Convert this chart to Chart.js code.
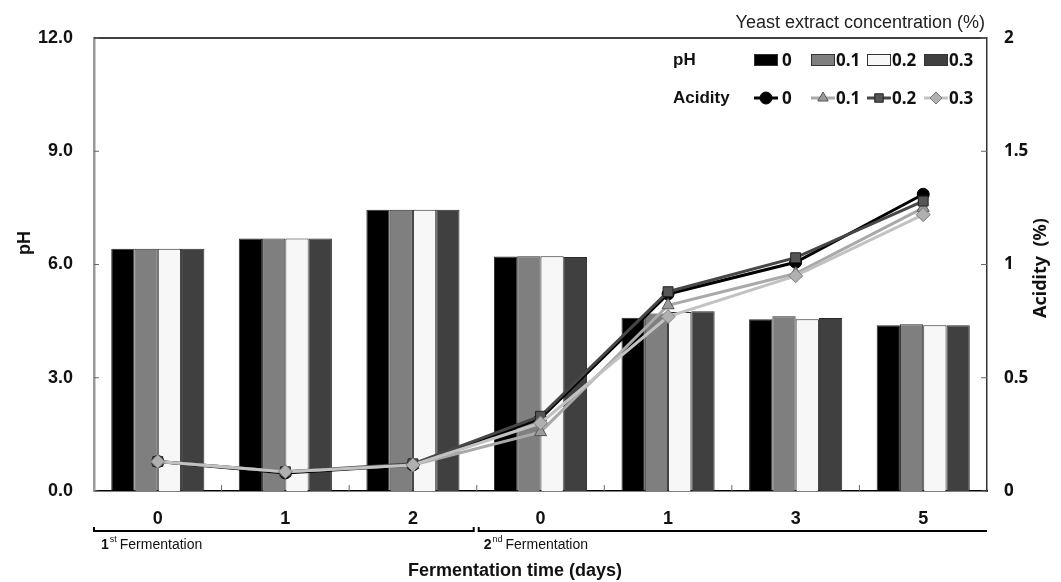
<!DOCTYPE html>
<html>
<head>
<meta charset="utf-8">
<script src="https://cdn.jsdelivr.net/npm/chart.js@4/dist/chart.umd.min.js"></script>
<style>
    body { margin: 0; background: #fff; }
    #wrap { width: 1061px; height: 582px; }
</style>
</head>
<body>
<div id="wrap"><canvas id="fermentChart" width="1061" height="582"></canvas></div>
<script>
// fermentation days (1st: 0,1,2 / 2nd: 0,1,3,5)
const days = ['0', '1', '2', '0', '1', '3', '5'];
const concLabels = ['0', '0.1', '0.2', '0.3'];

// pH per yeast extract concentration
const ph0  = [6.42, 6.69, 7.45, 6.21, 4.59, 4.55, 4.39];
const ph01 = [6.42, 6.69, 7.45, 6.22, 4.70, 4.63, 4.42];
const ph02 = [6.42, 6.69, 7.45, 6.22, 4.74, 4.55, 4.39];
const ph03 = [6.42, 6.69, 7.45, 6.20, 4.76, 4.58, 4.39];

// acidity (%) per yeast extract concentration
const acid0  = [0.13, 0.08, 0.115, 0.32, 0.87, 1.01, 1.31];
const acid01 = [0.13, 0.085, 0.115, 0.26, 0.82, 0.96, 1.25];
const acid02 = [0.13, 0.085, 0.12, 0.33, 0.88, 1.03, 1.28];
const acid03 = [0.13, 0.085, 0.115, 0.30, 0.77, 0.95, 1.22];

const phTicks = [0, 3, 6, 9, 12];
const acidTicks = [0, 0.5, 1, 1.5, 2];

const barColors = ['#000000', '#7f7f7f', '#f7f7f7', '#404040'];

function barSet(label, data, color) {
    return {
        type: 'bar',
        label: label,
        data: data,
        yAxisID: 'y',
        backgroundColor: color,
        borderColor: '#2a2a2a',
        borderWidth: 1,
        categoryPercentage: 0.73,
        barPercentage: 1.0,
        order: 10
    };
}

function lineSet(label, data, line, fill, edge, style, radius, order) {
    return {
        type: 'line',
        label: label,
        data: data,
        yAxisID: 'y1',
        borderColor: line,
        borderWidth: 3,
        backgroundColor: fill,
        pointBackgroundColor: fill,
        pointBorderColor: edge,
        pointBorderWidth: 1,
        pointStyle: style,
        pointRadius: radius,
        tension: 0,
        order: order
    };
}

const datasets = [
    barSet(concLabels[0], ph0, barColors[0]),
    barSet(concLabels[1], ph01, barColors[1]),
    barSet(concLabels[2], ph02, barColors[2]),
    barSet(concLabels[3], ph03, barColors[3]),
    lineSet(concLabels[0], acid0, '#000000', '#000000', '#000000', 'circle', 6, 3),
    lineSet(concLabels[1], acid01, '#a9a9a9', '#9a9a9a', '#555555', 'triangle', 7, 2),
    lineSet(concLabels[2], acid02, '#474747', '#555555', '#222222', 'rect', 7, 1),
    lineSet(concLabels[3], acid03, '#c2c2c2', '#b0b0b0', '#7a7a7a', 'rectRot', 7, 0)
];

const decorations = {
    id: 'decorations',
    afterDraw: function (chart) {
        const ctx = chart.ctx;
        const area = chart.chartArea;
        const xs = chart.scales.x;
        const ys = chart.scales.y;
        const ys1 = chart.scales.y1;
        ctx.save();

        // top frame line
        ctx.strokeStyle = '#000';
        ctx.lineWidth = 1.5;
        ctx.beginPath();
        ctx.moveTo(area.left, area.top);
        ctx.lineTo(area.right, area.top);
        ctx.stroke();

        // inward tick marks
        ctx.lineWidth = 1;
        ctx.strokeStyle = '#666';
        ctx.beginPath();
        phTicks.forEach(function (v) {
            const py = ys.getPixelForValue(v);
            ctx.moveTo(area.left, py);
            ctx.lineTo(area.left + 5, py);
        });
        acidTicks.forEach(function (v) {
            const py = ys1.getPixelForValue(v);
            ctx.moveTo(area.right, py);
            ctx.lineTo(area.right - 6, py);
        });
        for (let i = 1; i < days.length; i++) {
            const px = (xs.getPixelForValue(i - 1) + xs.getPixelForValue(i)) / 2;
            ctx.moveTo(px, area.bottom);
            ctx.lineTo(px, area.bottom - 6);
        }
        ctx.stroke();

        // fermentation brackets
        const mid = (xs.getPixelForValue(2) + xs.getPixelForValue(3)) / 2;
        const by = 531;
        ctx.strokeStyle = '#000';
        ctx.lineWidth = 2;
        ctx.beginPath();
        ctx.moveTo(area.left, by - 4);
        ctx.lineTo(area.left, by);
        ctx.lineTo(mid - 3, by);
        ctx.lineTo(mid - 3, by - 4);
        ctx.moveTo(mid + 2, by - 4);
        ctx.lineTo(mid + 2, by);
        ctx.lineTo(area.right, by);
        ctx.stroke();

        function fermLabel(num, sup, x) {
            const y = 545;
            ctx.fillStyle = '#111';
            ctx.textBaseline = 'middle';
            ctx.textAlign = 'left';
            ctx.font = 'bold 14px "Liberation Sans", Arial';
            ctx.fillText(num, x, y);
            let cx = x + ctx.measureText(num).width;
            ctx.font = '9px "Liberation Sans", Arial';
            ctx.fillText(sup, cx + 1, y - 5);
            cx += ctx.measureText(sup).width + 4;
            ctx.font = '14px "Liberation Sans", Arial';
            ctx.fillText('Fermentation', cx, y);
        }
        fermLabel('1', 'st', area.left + 7);
        fermLabel('2', 'nd', mid + 7);

        // axis titles
        ctx.fillStyle = '#111';
        ctx.textAlign = 'center';
        ctx.textBaseline = 'middle';
        ctx.font = 'bold 18px "Liberation Sans", Arial';
        ctx.fillText('Fermentation time (days)', 515, 571);

        ctx.save();
        ctx.translate(25, 243);
        ctx.rotate(-Math.PI / 2);
        ctx.font = 'bold 18px "Liberation Sans", Arial';
        ctx.fillText('pH', 0, 0);
        ctx.restore();

        ctx.save();
        ctx.translate(1041, 268);
        ctx.rotate(-Math.PI / 2);
        ctx.font = 'bold 18px "Noto Sans", sans-serif';
        ctx.fillText('Acidity  (%)', 0, 0);
        ctx.restore();

        // legend
        ctx.textAlign = 'right';
        ctx.font = '18px "Liberation Sans", Arial';
        ctx.fillStyle = '#222';
        ctx.fillText('Yeast extract concentration (%)', 985, 23);

        const rowPh = 60;
        const rowAcid = 98;
        ctx.textAlign = 'left';
        ctx.fillStyle = '#111';
        ctx.font = 'bold 17px "Liberation Sans", Arial';
        ctx.fillText('pH', 673, rowPh);
        ctx.fillText('Acidity', 673, rowAcid);

        const symX = [754, 811, 867, 924];
        const symW = 24;
        ctx.font = 'bold 17px "Noto Sans", sans-serif';
        for (let i = 0; i < 4; i++) {
            const bar = chart.data.datasets[i];
            ctx.fillStyle = bar.backgroundColor;
            ctx.fillRect(symX[i], rowPh - 6, symW, 12);
            ctx.strokeStyle = '#333';
            ctx.lineWidth = 1;
            ctx.strokeRect(symX[i] + 0.5, rowPh - 5.5, symW - 1, 11);
            ctx.fillStyle = '#111';
            ctx.fillText(concLabels[i], symX[i] + symW + (i === 0 ? 4 : 1), rowPh + 1);

            const ln = chart.data.datasets[i + 4];
            ctx.strokeStyle = ln.borderColor;
            ctx.lineWidth = 3;
            ctx.beginPath();
            ctx.moveTo(symX[i], rowAcid);
            ctx.lineTo(symX[i] + symW, rowAcid);
            ctx.stroke();
            ctx.fillStyle = ln.pointBackgroundColor;
            ctx.strokeStyle = ln.pointBorderColor;
            ctx.lineWidth = 1;
            Chart.helpers.drawPoint(ctx, {
                pointStyle: ln.pointStyle,
                radius: 6,
                borderWidth: 1,
                rotation: 0
            }, symX[i] + symW / 2, rowAcid);
            ctx.fillStyle = '#111';
            ctx.fillText(concLabels[i], symX[i] + symW + (i === 0 ? 4 : 1), rowAcid + 1);
        }
        ctx.restore();
    }
};

const config = {
    data: {
        labels: days,
        datasets: datasets
    },
    plugins: [decorations],
    options: {
        responsive: false,
        animation: false,
        layout: {
            padding: { top: 38, left: 0, right: 0, bottom: 0 }
        },
        plugins: {
            legend: { display: false },
            tooltip: { enabled: false }
        },
        scales: {
            x: {
                grid: { display: false, drawTicks: false },
                border: { display: true, color: '#000', width: 1.5 },
                ticks: {
                    padding: 17,
                    color: '#111',
                    font: { family: '"Liberation Sans", Arial', size: 18, weight: 'bold' }
                },
                afterFit: function (scale) { scale.height = 91; }
            },
            y: {
                position: 'left',
                min: 0,
                max: 12,
                grid: { display: false, drawTicks: false },
                border: { display: true, color: '#9a9a9a', width: 2.5 },
                afterBuildTicks: function (scale) {
                    scale.ticks = phTicks.map(function (v) { return { value: v }; });
                },
                ticks: {
                    padding: 21,
                    color: '#111',
                    font: { family: '"Liberation Sans", Arial', size: 18, weight: 'bold' },
                    callback: function (v) { return Number(v).toFixed(1); }
                },
                afterFit: function (scale) { scale.width = 94; }
            },
            y1: {
                position: 'right',
                min: 0,
                max: 2,
                grid: { display: false, drawTicks: false },
                border: { display: true, color: '#333', width: 1.5 },
                afterBuildTicks: function (scale) {
                    scale.ticks = acidTicks.map(function (v) { return { value: v }; });
                },
                ticks: {
                    padding: 17,
                    color: '#111',
                    font: { family: '"Noto Sans", sans-serif', size: 17, weight: 'bold' },
                    callback: function (v) { return String(v); }
                },
                afterFit: function (scale) { scale.width = 74; }
            }
        }
    }
};

let ctx = document.getElementById('fermentChart');
let fermentChart = new Chart(ctx, config);
</script>
</body>
</html>
